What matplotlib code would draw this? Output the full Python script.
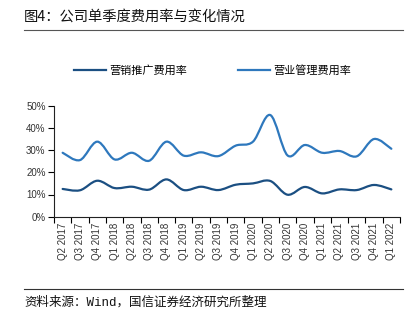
import numpy as np
import matplotlib
matplotlib.use("Agg")
import matplotlib.pyplot as plt
from matplotlib.path import Path
from matplotlib.patches import PathPatch
from matplotlib.lines import Line2D

plt.rcParams['font.family'] = ['Liberation Sans', 'Noto Sans CJK SC', 'DejaVu Sans']

# 季度标签
quarters = ['Q2 2017', 'Q3 2017', 'Q4 2017', 'Q1 2018', 'Q2 2018', 'Q3 2018',
            'Q4 2018', 'Q1 2019', 'Q2 2019', 'Q3 2019', 'Q4 2019', 'Q1 2020',
            'Q2 2020', 'Q3 2020', 'Q4 2020', 'Q1 2021', 'Q2 2021', 'Q3 2021',
            'Q4 2021', 'Q1 2022']

# 营销推广费用率 (%)
marketing = [12.5, 11.9, 16.2, 12.9, 13.5, 12.2, 16.8, 12.0, 13.5, 12.0,
             14.4, 15.0, 16.1, 9.9, 13.4, 10.5, 12.3, 12.0, 14.3, 12.3]
# 营业管理费用率 (%)
admin = [28.8, 25.5, 33.8, 25.8, 28.8, 25.2, 33.8, 27.5, 29.0, 27.3,
         32.0, 33.8, 45.8, 27.6, 32.3, 28.8, 29.6, 27.2, 35.0, 30.6]

c_dark = '#1B4F82'
c_light = '#2E78BD'


def smooth_path(xs, ys):
    # 平滑曲线 (Catmull-Rom 转 Bezier)
    pts = np.column_stack([xs, ys]).astype(float)
    n = len(pts)
    verts = [pts[0]]
    codes = [Path.MOVETO]
    for i in range(n - 1):
        p0 = pts[i - 1] if i > 0 else pts[i]
        p1 = pts[i]
        p2 = pts[i + 1]
        p3 = pts[i + 2] if i + 2 < n else pts[i + 1]
        c1 = p1 + (p2 - p0) / 6.0
        c2 = p2 - (p3 - p1) / 6.0
        verts += [c1, c2, p2]
        codes += [Path.CURVE4] * 3
    return Path(verts, codes)


fig = plt.figure(figsize=(4.2, 3.23), dpi=100)
ax = fig.add_axes([54/420, 1-216.7/323, 346/420, 111/323])

x = np.arange(len(quarters))
for vals, col in [(marketing, c_dark), (admin, c_light)]:
    ax.add_patch(PathPatch(smooth_path(x, vals), facecolor='none',
                           edgecolor=col, lw=1.6, capstyle='round'))

ax.set_xlim(-0.5, len(quarters) - 0.5)
ax.set_ylim(0, 50)
ax.set_yticks(np.arange(0, 51, 10))
ax.set_yticklabels([f'{v}%' for v in range(0, 51, 10)], fontsize=7, color='#333333')
ax.set_xticks(x)
ax.set_xticklabels(quarters, rotation=90, fontsize=7, color='#333333')
ax.set_xticks(np.arange(-0.5, len(quarters), 1), minor=True)
ax.tick_params(axis='x', which='major', length=0, pad=4)
ax.tick_params(axis='x', which='minor', length=4, width=0.8, direction='out')
ax.tick_params(axis='y', length=4, width=0.8, direction='out', pad=2)
for s in ['top', 'right']:
    ax.spines[s].set_visible(False)
for s in ['left', 'bottom']:
    ax.spines[s].set_linewidth(0.8)
    ax.spines[s].set_color('#222222')

handles = [Line2D([], [], color=c_dark, lw=1.6),
           Line2D([], [], color=c_light, lw=1.6)]
fig.legend(handles, ['营销推广费用率', '营业管理费用率'], loc='center',
           bbox_to_anchor=(0.506, 1-70/323), ncol=2, frameon=False,
           handlelength=2.9, handletextpad=0.3, columnspacing=4.5,
           prop={'family': ['Noto Sans CJK SC'], 'size': 8})

fig.text(24/420, 1-17/323, '图4：公司单季度费用率与变化情况', fontsize=10.3,
         family=['Noto Sans CJK SC'], va='center', ha='left', color='#111111')
fig.add_artist(Line2D([24/420, 403/420], [1-30/323, 1-30/323], color='#555555', lw=0.8))
fig.add_artist(Line2D([24/420, 403/420], [1-289/323, 1-289/323], color='#333333', lw=0.8))
fig.text(24/420, 1-302/323, '资料来源：Wind，国信证券经济研究所整理', fontsize=9,
         family=['Liberation Mono', 'Noto Sans CJK SC'], va='center', ha='left',
         color='#111111')

fig.savefig('out.png', dpi=100)
